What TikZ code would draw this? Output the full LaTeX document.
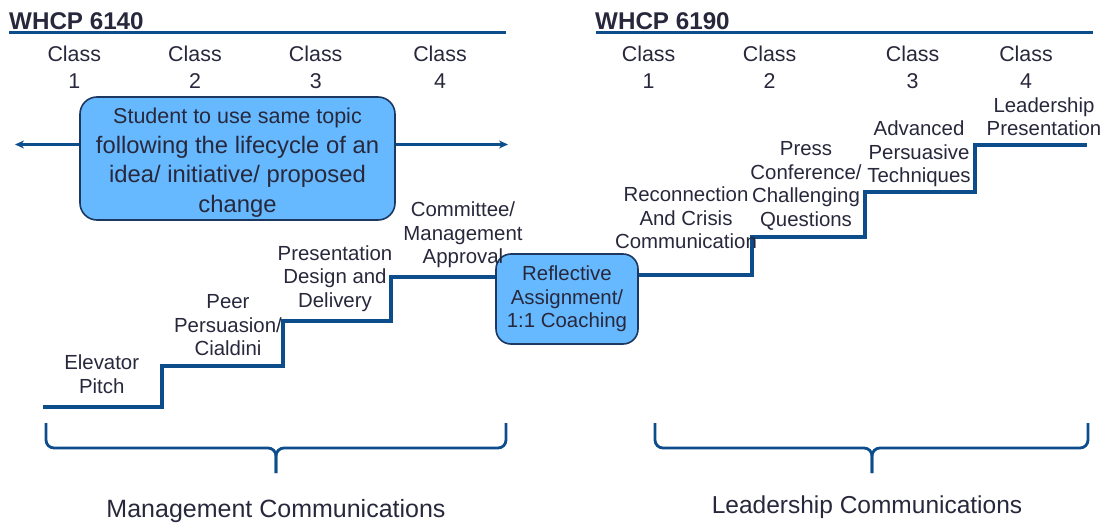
\documentclass[tikz,border=0pt]{standalone}
\usepackage{xcolor}
\usepackage{fontspec}
\setmainfont{Liberation Sans}
\usepackage{tikz}
\usetikzlibrary{positioning,%
  arrows.meta,%
  calc
}
\definecolor{stairblue}{RGB}{13,77,140}
\definecolor{boxblue}{RGB}{102,184,255}
\definecolor{boxline}{RGB}{28,56,96}
\definecolor{inkgray}{RGB}{40,40,60}

\begin{document}
\begin{tikzpicture}
                    [x=1pt, y=-1pt,
                    lbl/.style={align=center, text=inkgray,
                        inner sep=0pt,
                        font=\fontsize{20.4}{23.5}\selectfont},
                    cls/.style={align=center, text=inkgray,
                        inner sep=0pt,
                        font=\fontsize{21.4}{27}\selectfont},
                    course/.style={anchor=base west, text=inkgray,
                        inner sep=0pt,
                        font=\fontsize{24.2}{28}\selectfont\bfseries},
                    note/.style={rectangle, rounded corners=17pt,
                        fill=boxblue, draw=boxline, line width=1.6pt,
                        align=center, text=inkgray, inner sep=1pt},
                    stair/.style={draw=stairblue, line width=3.2pt},
                    bracket/.style={draw=stairblue, line width=2.8pt,
                        rounded corners=8pt},
                    arr/.style={draw=stairblue, line width=2.6pt,
                        -{Stealth[length=9pt,width=8pt]}}]

                    \useasboundingbox (0,0) rectangle (1110,524);

                    % course headings
                    \node[course] at (9,30) (h1) {WHCP 6140};
                    \node[course] at (595,30) (h2) {WHCP 6190};
                    \draw[stairblue, line width=3pt] (9,32.7) -- (506,32.7);
                    \draw[stairblue, line width=3pt] (596,32.7) -- (1093,32.7);

                    % class columns
                    \foreach \n/\x in {1/74.3,2/195,3/315.7,4/440}
                        \node[cls] at (\x,67) (lc\n) {Class\\\n};
                    \foreach \n/\x in {1/648.6,2/769.6,3/912.6,4/1026}
                        \node[cls] at (\x,67) (rc\n) {Class\\\n};

                    % shared topic
                    \node[note, minimum width=315pt, minimum height=123pt,
                        font=\fontsize{23.8}{29.7}\selectfont] at (237.5,158.5)
                        (topic) {\rule{0pt}{24pt}{\fontsize{21.5}{29.7}\selectfont Student to use same topic}\\
                        following the lifecycle of an\\
                        idea/ initiative/ proposed\\
                        change};
                    \coordinate (ltip) at (15,144.5);
                    \coordinate (rtip) at (508,144.5);
                    \draw[arr] (topic.west |- ltip) -- (ltip);
                    \draw[arr] (topic.east |- rtip) -- (rtip);

                    % reflective step between the courses
                    \node[note, rounded corners=15pt, minimum width=142pt,
                        minimum height=90pt,
                        font=\fontsize{20.4}{23.5}\selectfont] at (567,299)
                        (refl) {Reflective\\Assignment/\\1:1 Coaching};

                    % staircases
                    \coordinate (start) at (43,407);
                    \coordinate (finish) at (1087,145);
                    \draw[stair] (start) -| (162,366) -| (283,321)
                        -| (391,277) -- (refl.west |- 0,277);
                    \draw[stair] (refl.east |- 0,275) -| (752,237)
                        -| (865,192) -| (975,145) -- (finish);

                    % step labels, 6140
                    \node[lbl] at (101.7,374) (elev) {Elevator\\Pitch};
                    \node[lbl] at (228,325.5) (peer) {Peer\\Persuasion/\\Cialdini};
                    \node[lbl] at (335,278.5) (pres) {Presentation\\Design and\\Delivery};
                    \node[lbl] at (463,235) (comm) {Committee/\\Management\\Approval};

                    % step labels, 6190
                    \node[lbl] at (686,218) (recon) {Reconnection\\And Crisis\\Communication};
                    \node[lbl] at (806,186) (press) {Press\\Conference/\\Challenging\\Questions};
                    \node[lbl] at (919,154) (adv) {Advanced\\Persuasive\\Techniques};
                    \node[lbl] at (1044,116.5) (leadp) {Leadership\\Presentation};

                    % brackets
                    \coordinate (ml) at (46,423);
                    \coordinate (mr) at (506,423);
                    \coordinate (mtip) at (276,473);
                    \draw[bracket] (ml) |- (mtip |- 0,448) -- (mtip);
                    \draw[bracket] (mr) |- (mtip |- 0,448) -- (mtip);
                    \coordinate (nl) at (655,423);
                    \coordinate (nr) at (1088,423);
                    \coordinate (ntip) at (872,473);
                    \draw[bracket] (nl) |- (ntip |- 0,448) -- (ntip);
                    \draw[bracket] (nr) |- (ntip |- 0,448) -- (ntip);

                    \node[lbl, font=\fontsize{25}{30}\selectfont] at (276,511.5)
                        (mgmt) {Management Communications};
                    \node[lbl, font=\fontsize{24.5}{30}\selectfont] at (867,507)
                        (lead) {Leadership Communications};
                \end{tikzpicture}
\end{document}
